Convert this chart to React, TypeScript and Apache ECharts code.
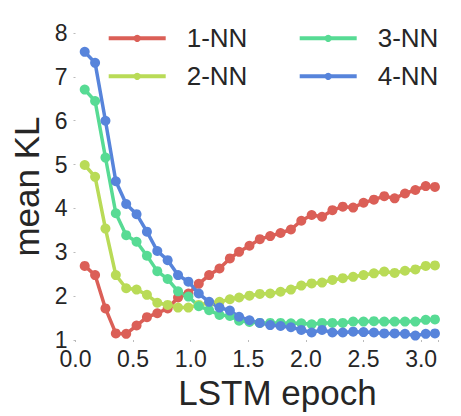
import React, { useEffect, useRef } from "react";
import * as echarts from "echarts";

const epochs = [
  0.08, 0.17, 0.26, 0.35, 0.44, 0.53, 0.62, 0.71, 0.8, 0.89, 0.98, 1.07, 1.16, 1.25, 1.34, 1.42, 1.51, 1.6,
  1.69, 1.78, 1.87, 1.96, 2.05, 2.14, 2.23, 2.32, 2.41, 2.5, 2.59, 2.68, 2.77, 2.86, 2.95, 3.04, 3.12,
];
const nn1 = [
  2.69, 2.48, 1.72, 1.15, 1.14, 1.33, 1.52, 1.61, 1.72, 1.97, 2.06, 2.28, 2.48, 2.63, 2.86, 3.01, 3.15, 3.3,
  3.37, 3.44, 3.52, 3.72, 3.85, 3.81, 3.96, 4.04, 4.02, 4.13, 4.2, 4.28, 4.23, 4.34, 4.42, 4.51, 4.49,
];
const nn2 = [
  4.99, 4.72, 3.54, 2.48, 2.18, 2.15, 2.03, 1.85, 1.8, 1.74, 1.74, 1.8, 1.85, 1.87, 1.93, 1.97, 2.01, 2.05,
  2.06, 2.1, 2.15, 2.24, 2.29, 2.31, 2.37, 2.41, 2.44, 2.48, 2.52, 2.56, 2.53, 2.58, 2.61, 2.69, 2.7,
];
const nn3 = [
  6.71, 6.45, 5.16, 3.89, 3.39, 3.24, 2.92, 2.57, 2.39, 2.11, 1.99, 1.77, 1.68, 1.57, 1.55, 1.44, 1.41, 1.39,
  1.39, 1.39, 1.38, 1.38, 1.36, 1.39, 1.39, 1.39, 1.42, 1.42, 1.43, 1.42, 1.42, 1.42, 1.42, 1.46, 1.47,
];
const nn4 = [
  7.57, 7.32, 6.0, 4.62, 4.1, 3.87, 3.47, 3.03, 2.82, 2.48, 2.33, 2.06, 1.87, 1.74, 1.67, 1.53, 1.45, 1.39,
  1.34, 1.32, 1.29, 1.23, 1.17, 1.23, 1.17, 1.17, 1.19, 1.18, 1.17, 1.15, 1.15, 1.14, 1.1, 1.14, 1.15,
];
const seriesNames = ["1-NN", "2-NN", "3-NN", "4-NN"];
const seriesValues = [nn1, nn2, nn3, nn4];
const colors = ["#db5f57", "#b9db57", "#57db94", "#5784db"];

const FONT = "'Liberation Sans', Arial, sans-serif";
const TEXT = "#262626";

export default function App() {
  const ref = useRef<HTMLDivElement>(null);
  useEffect(() => {
    if (!ref.current) return;
    const chart = echarts.init(ref.current, undefined, { renderer: "svg" });
    const legendCommon = {
      orient: "vertical" as const,
      padding: 0,
      itemWidth: 57,
      itemHeight: 9,
      itemGap: 12,
      lineStyle: { width: 4 },
      textStyle: {
        fontFamily: FONT,
        fontSize: 26,
        color: TEXT,
        lineHeight: 26,
        padding: [0, 0, 0, 16],
      },
    };
    chart.setOption({
      animation: false,
      backgroundColor: "#ffffff",
      color: colors,
      textStyle: { fontFamily: FONT },
      grid: { left: 75.5, right: 22.6, top: 33, bottom: 76 },
      legend: [
        { ...legendCommon, data: ["1-NN", "2-NN"], left: 106.7, top: 25.3 },
        { ...legendCommon, data: ["3-NN", "4-NN"], left: 297.7, top: 25.3 },
      ],
      xAxis: {
        type: "value",
        min: 0,
        max: 3.15,
        interval: 0.5,
        name: "LSTM epoch",
        nameLocation: "middle",
        nameGap: 33,
        nameTextStyle: { fontFamily: FONT, fontSize: 35, color: TEXT, padding: [0, 0, 0, 41] },
        axisLine: { show: false },
        axisTick: { show: true, length: 2, lineStyle: { color: "#bbbbbb" } },
        splitLine: { show: false },
        axisLabel: {
          fontFamily: FONT,
          fontSize: 23,
          color: TEXT,
          margin: 7,
          formatter: (v: number) => (Math.abs(v * 2 - Math.round(v * 2)) < 1e-6 ? v.toFixed(1) : ""),
        },
      },
      yAxis: {
        type: "value",
        min: 1,
        max: 8,
        interval: 1,
        name: "mean KL",
        nameLocation: "middle",
        nameGap: 28,
        nameTextStyle: { fontFamily: FONT, fontSize: 35, color: TEXT },
        axisLine: { show: false },
        axisTick: { show: true, length: 2, lineStyle: { color: "#bbbbbb" } },
        splitLine: { show: false },
        axisLabel: { fontFamily: FONT, fontSize: 23, color: TEXT, margin: 8 },
      },
      series: seriesNames.map((name, k) => ({
        name,
        type: "line",
        data: epochs.map((e, i) => [e, seriesValues[k][i]]),
        symbol: "circle",
        symbolSize: 10,
        showSymbol: true,
        lineStyle: { width: 3.5, color: colors[k] },
        itemStyle: { color: colors[k] },
        emphasis: { disabled: true },
      })),
    });
    return () => chart.dispose();
  }, []);
  return (
    <div
      ref={ref}
      style={{ position: "fixed", left: 0, top: 0, width: 461, height: 416, background: "#fff" }}
    />
  );
}
